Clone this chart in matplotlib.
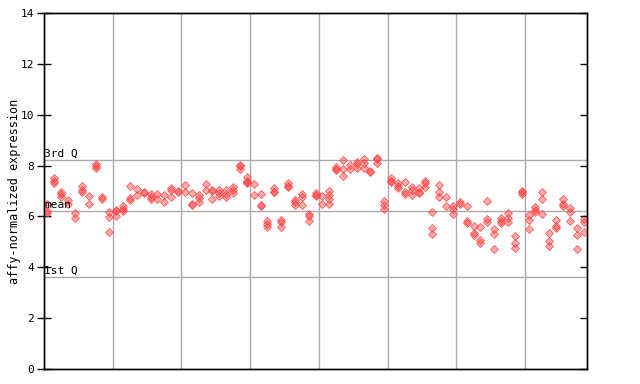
import matplotlib
matplotlib.use("Agg")
import matplotlib.pyplot as plt

# expression values per sample (replicates)
values = [
    [6.49, 6.2, 6.12], [7.5, 7.4, 7.32], [6.98, 6.88, 6.78], [6.64, 6.5],
    [6.13, 5.94], [7.2, 7.05, 6.95], [6.8, 6.49], [8.05, 8.0, 7.9],
    [6.75, 6.68], [6.19, 5.99, 5.38],
    [6.25, 6.2, 6.02], [6.4, 6.3, 6.2], [7.2, 6.72, 6.65], [7.07, 6.83],
    [6.96, 6.92], [6.88, 6.78, 6.7], [6.88, 6.7], [6.83, 6.57],
    [7.1, 7.02, 6.75], [7.0, 6.95],
    [7.25, 6.97], [6.94, 6.48, 6.44], [6.84, 6.72, 6.58], [7.27, 7.02],
    [7.04, 7.0, 6.69], [7.04, 6.93, 6.82], [7.04, 6.9, 6.75], [7.14, 7.02, 6.92],
    [8.02, 7.98, 7.86], [7.56, 7.4, 7.34, 7.3],
    [7.26, 6.83], [6.88, 6.44, 6.4], [5.83, 5.72, 5.6], [7.12, 6.97, 6.95],
    [5.85, 5.8, 5.6], [7.3, 7.2, 7.14], [6.64, 6.55, 6.46], [6.88, 6.75, 6.43],
    [6.08, 6.03, 5.83], [6.93, 6.85, 6.8],
    [6.81, 6.49], [7.01, 6.85, 6.7, 6.5], [7.95, 7.88, 7.82], [8.22, 7.85, 7.59],
    [8.02, 7.85], [8.15, 8.05, 7.92], [8.24, 8.1, 7.9], [7.8, 7.75],
    [8.3, 8.25, 8.09], [6.6, 6.45, 6.28],
    [7.5, 7.4, 7.37], [7.33, 7.2, 7.13], [7.34, 6.98, 6.88], [7.14, 7.04, 6.83],
    [7.1, 6.97, 6.93], [7.4, 7.3, 7.17], [6.16, 5.53, 5.31], [7.24, 6.95, 6.75],
    [6.75, 6.4], [6.41, 6.3, 6.08],
    [6.55, 6.5], [6.41, 5.83, 5.76], [5.61, 5.36, 5.27], [5.57, 5.07, 4.95],
    [6.59, 5.88, 5.8], [5.49, 5.31, 4.71], [5.92, 5.82, 5.73], [6.12, 5.95, 5.77],
    [5.23, 4.94, 4.75], [7.0, 6.95, 6.9],
    [6.06, 5.86, 5.51], [6.36, 6.26, 6.19], [6.95, 6.67, 6.08], [5.34, 5.05, 4.85],
    [5.86, 5.62, 5.56], [6.69, 6.48, 6.4], [6.32, 6.16, 5.82], [5.53, 5.26, 4.71],
    [5.88, 5.8, 5.38],
]

quartile_values = [8.22, 6.21, 3.62]
quartile_labels = ["3rd Q", "mean", "1st Q"]
y_ticks = [0, 2, 4, 6, 8, 10, 12, 14]
group_size = 10

GRID = "#aaaaaa"
MONO = "DejaVu Sans Mono"

fig = plt.figure(figsize=(6.4, 3.84), dpi=100)
ax = fig.add_axes([44 / 640, 15 / 384, 543 / 640, 356 / 384])

xs, ys = [], []
for i, reps in enumerate(values):
    for v in reps:
        xs.append(i)
        ys.append(v)

ax.plot(xs, ys, linestyle="none", marker="D", markersize=4.2,
        markerfacecolor=(1, 0.27, 0.27, 0.45),
        markeredgecolor=(1, 0.27, 0.27, 0.85), markeredgewidth=0.6, zorder=3)

n = len(values)
ax.set_xlim(-0.5, n - 0.5)
ax.set_ylim(0, 14)

# group separators
for g in range(group_size, n, group_size):
    ax.axvline(g - 0.5, color=GRID, linewidth=1, zorder=1)

# quartile lines and labels
for q, lab in zip(quartile_values, quartile_labels):
    ax.axhline(q, color=GRID, linewidth=1, zorder=1)
    ax.text(-0.45, q + 0.04, lab, fontsize=8, family=MONO,
            ha="left", va="bottom", zorder=4)

ax.set_xticks([])
ax.set_yticks(y_ticks)
ax.set_yticklabels([str(t) for t in y_ticks], family=MONO, fontsize=8)
ax.tick_params(axis="y", direction="inout", length=10, width=1, pad=2)
ax.set_ylabel("affy-normalized expression", family=MONO, fontsize=8.5, labelpad=0)

# right side: inward ticks only, no labels
ax2 = ax.twinx()
ax2.set_ylim(0, 14)
ax2.set_yticks(y_ticks)
ax2.tick_params(axis="y", direction="in", length=5, width=1, labelright=False)

for a in (ax, ax2):
    for s in a.spines.values():
        s.set_linewidth(1)

fig.savefig("out.png", dpi=100)
